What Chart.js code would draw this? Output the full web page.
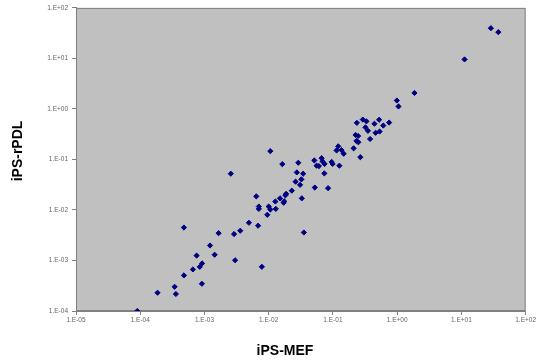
<!DOCTYPE html>
<html>
<head>
<meta charset="utf-8">
<script src="https://cdn.jsdelivr.net/npm/chart.js@4.4.1/dist/chart.umd.min.js"></script>
<style>
  html, body { margin: 0; padding: 0; background: #ffffff; }
  #wrap { width: 537px; height: 362px; }
</style>
</head>
<body>
<div id="wrap"><canvas id="c" width="537" height="362"></canvas></div>
<script>
// ---- data ----
const xTitle = 'iPS-MEF';
const yTitle = 'iPS-rPDL';

const xTickValues = [1e-5, 1e-4, 1e-3, 1e-2, 1e-1, 1e0, 1e1, 1e2];
const xTickLabels = ['1.E-05', '1.E-04', '1.E-03', '1.E-02', '1.E-01', '1.E+00', '1.E+01', '1.E+02'];
const yTickValues = [1e-4, 1e-3, 1e-2, 1e-1, 1e0, 1e1, 1e2];
const yTickLabels = ['1.E-04', '1.E-03', '1.E-02', '1.E-01', '1.E+00', '1.E+01', '1.E+02'];

const xValues = [
  9.0e-5, 1.86e-4, 3.43e-4, 3.59e-4, 4.79e-4, 4.79e-4, 6.61e-4, 7.55e-4, 8.45e-4, 9.18e-4,
  9.12e-4, 1.22e-3, 1.44e-3, 1.66e-3, 2.89e-3, 3.00e-3, 3.61e-3, 4.92e-3, 6.84e-3, 7.83e-3,
  6.41e-3, 7.02e-3, 7.02e-3, 9.51e-3, 1.00e-2, 1.06e-2, 1.29e-2, 1.06e-2, 2.57e-3, 1.63e-2,
  2.89e-2, 1.27e-2, 1.50e-2, 1.74e-2, 1.71e-2, 1.82e-2, 1.87e-2, 2.29e-2, 3.08e-2, 2.62e-2,
  3.23e-2, 2.74e-2, 3.44e-2, 3.28e-2, 3.53e-2, 5.22e-2, 8.41e-2, 5.13e-2, 6.67e-2, 6.90e-2,
  5.57e-2, 6.05e-2, 7.41e-2, 9.55e-2, 9.89e-2, 1.26e-1, 7.35e-2, 1.14e-1, 1.21e-1, 1.36e-1,
  1.47e-1, 2.10e-1, 2.67e-1, 2.36e-1, 2.25e-1, 2.47e-1, 2.32e-1, 2.49e-1, 2.92e-1, 3.32e-1,
  3.21e-1, 3.51e-1, 3.79e-1, 4.43e-1, 5.24e-1, 4.62e-1, 5.33e-1, 6.08e-1, 7.50e-1, 0.99,
  1.05, 1.86, 11.2, 28.8, 37.6
];
const yValues = [
  1.0e-4, 2.30e-4, 3.02e-4, 2.17e-4, 5.07e-4, 4.49e-3, 6.65e-4, 1.25e-3, 7.50e-4, 8.75e-4,
  3.46e-4, 1.98e-3, 1.30e-3, 3.47e-3, 3.34e-3, 1.01e-3, 3.88e-3, 5.58e-3, 4.88e-3, 7.50e-4,
  1.86e-2, 1.17e-2, 1.05e-2, 8.03e-3, 1.17e-2, 1.02e-2, 1.05e-2, 1.46e-1, 5.22e-2, 8.08e-2,
  8.61e-2, 1.47e-2, 1.70e-2, 1.49e-2, 1.39e-2, 1.95e-2, 2.09e-2, 2.41e-2, 3.14e-2, 3.63e-2,
  4.03e-2, 5.54e-2, 5.22e-2, 1.70e-2, 3.58e-3, 2.78e-2, 2.70e-2, 9.55e-2, 1.06e-1, 9.14e-2,
  7.52e-2, 7.38e-2, 8.15e-2, 8.93e-2, 8.15e-2, 7.52e-2, 5.30e-2, 1.51e-1, 1.82e-1, 1.53e-1,
  1.30e-1, 1.66e-1, 1.11e-1, 5.30e-1, 3.05e-1, 2.91e-1, 2.32e-1, 2.19e-1, 6.16e-1, 5.68e-1,
  4.32e-1, 3.69e-1, 2.54e-1, 5.09e-1, 6.11e-1, 3.37e-1, 3.57e-1, 4.69e-1, 5.37e-1, 1.47,
  1.12, 2.07, 9.55, 39.7, 33.1
];

const points = xValues.map((x, i) => ({ x: x, y: yValues[i] }));

const plotBackground = {
  id: 'plotBackground',
  beforeDraw(chart) {
    const { ctx, chartArea: a } = chart;
    ctx.save();
    ctx.fillStyle = '#c0c0c0';
    ctx.fillRect(a.left, a.top, a.right - a.left, a.bottom - a.top);
    ctx.strokeStyle = '#808080';
    ctx.lineWidth = 1;
    ctx.strokeRect(a.left + 0.5, a.top + 0.5, a.right - a.left - 1, a.bottom - a.top - 1);
    ctx.restore();
  }
};

const axisTitles = {
  id: 'axisTitles',
  afterDraw(chart) {
    const ctx = chart.ctx;
    ctx.save();
    ctx.fillStyle = '#000000';
    ctx.font = 'bold 14px "Liberation Sans", Arial, sans-serif';
    ctx.textAlign = 'center';
    ctx.textBaseline = 'middle';
    ctx.fillText(xTitle, 285, 351);
    ctx.translate(18, 151);
    ctx.rotate(-Math.PI / 2);
    ctx.fillText(yTitle, 0, 0);
    ctx.restore();
  }
};

const tickFont = { family: '"Liberation Sans", Arial, sans-serif', size: 6.5 };

new Chart(document.getElementById('c'), {
  type: 'scatter',
  data: {
    datasets: [{
      data: points,
      pointStyle: 'rectRot',
      pointRadius: 2.6,
      pointHoverRadius: 2.6,
      backgroundColor: '#000080',
      borderColor: '#000080',
      borderWidth: 1
    }]
  },
  options: {
    responsive: false,
    animation: false,
    events: [],
    layout: { padding: { top: 7, right: 10, left: 0, bottom: 0 } },
    plugins: { legend: { display: false }, tooltip: { enabled: false } },
    scales: {
      x: {
        type: 'logarithmic',
        position: 'bottom',
        min: 1e-5,
        max: 1e2,
        afterBuildTicks(scale) { scale.ticks = xTickValues.map(v => ({ value: v })); },
        afterFit(scale) { scale.height = 51; },
        ticks: {
          autoSkip: false,
          maxRotation: 0,
          minRotation: 0,
          padding: 1,
          color: '#666666',
          font: tickFont,
          callback: (v, i) => xTickLabels[i]
        },
        grid: { drawOnChartArea: false, drawTicks: true, tickLength: 4, color: '#808080' },
        border: { display: true, color: '#808080' }
      },
      y: {
        type: 'logarithmic',
        position: 'left',
        min: 1e-4,
        max: 1e2,
        afterBuildTicks(scale) { scale.ticks = yTickValues.map(v => ({ value: v })); },
        afterFit(scale) { scale.width = 76; },
        ticks: {
          autoSkip: false,
          padding: 4,
          color: '#666666',
          font: tickFont,
          callback: (v, i) => yTickLabels[i]
        },
        grid: { drawOnChartArea: false, drawTicks: true, tickLength: 4, color: '#808080' },
        border: { display: true, color: '#808080' }
      }
    }
  },
  plugins: [plotBackground, axisTitles]
});
</script>
</body>
</html>
